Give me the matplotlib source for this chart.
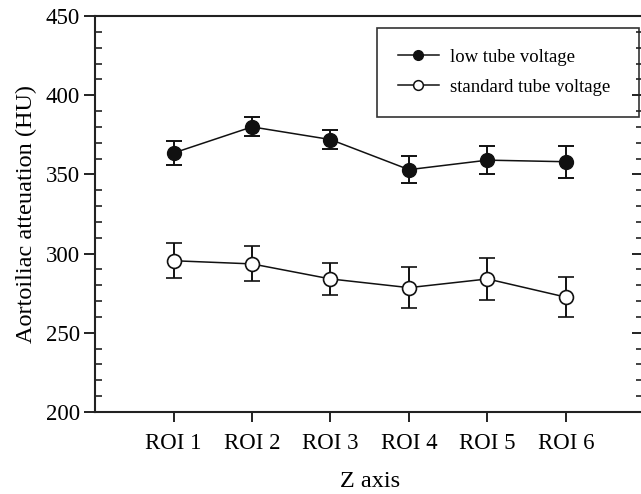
import numpy as np
import matplotlib
matplotlib.use('Agg')
import matplotlib.pyplot as plt
from matplotlib.ticker import MultipleLocator
from matplotlib.lines import Line2D

plt.rcParams['font.family'] = ['Liberation Serif', 'DejaVu Serif']

rois = ['ROI 1', 'ROI 2', 'ROI 3', 'ROI 4', 'ROI 5', 'ROI 6']
low_mean = [363.5, 380, 372, 353, 359, 358]
low_err = [7.5, 6, 6, 8.5, 9, 10]
std_mean = [295.5, 293.5, 284, 278.5, 284, 272.5]
std_err = [11, 11, 10, 13, 13.5, 12.5]

x = np.arange(1, len(rois) + 1)
ink = '#111111'

fig = plt.figure(figsize=(6.41, 4.94), dpi=100)
ax = fig.add_axes([95 / 641, 82 / 494, 549.5 / 641, 396 / 494])

ax.errorbar(x, low_mean, yerr=low_err, fmt='-o', color=ink, mfc=ink,
            mec=ink, ms=10, lw=1.1, elinewidth=1.4, capsize=6, capthick=1.4)
ax.errorbar(x, std_mean, yerr=std_err, fmt='-o', color=ink, mfc='white',
            mec=ink, mew=1.2, ms=10, lw=1.1, elinewidth=1.4, capsize=6, capthick=1.4)

ax.set_xlim(0, 7)
ax.set_ylim(200, 450)
ax.set_xticks(x)
ax.set_xticklabels(rois)
ax.yaxis.set_major_locator(MultipleLocator(50))
ax.yaxis.set_minor_locator(MultipleLocator(10))

for s in ax.spines.values():
    s.set_linewidth(1.5)
    s.set_color('#222222')

ax.tick_params(axis='x', which='major', direction='out', length=7, width=1.4,
               labelsize=16.5, top=False, pad=8, color='#222222')
ax.tick_params(axis='y', which='major', direction='out', length=8, width=1.4,
               labelsize=16.5, right=False, pad=3, color='#222222')
ax.tick_params(axis='y', which='minor', direction='in', length=5, width=1.2,
               right=False, color='#222222')

# right side ticks point inward
ax2 = ax.twinx()
ax2.set_ylim(200, 450)
ax2.yaxis.set_major_locator(MultipleLocator(50))
ax2.yaxis.set_minor_locator(MultipleLocator(10))
ax2.tick_params(axis='y', which='major', direction='in', length=9, width=1.4,
                labelright=False, color='#222222')
ax2.tick_params(axis='y', which='minor', direction='in', length=6, width=1.2,
                color='#222222')
for s in ax2.spines.values():
    s.set_visible(False)

ax.set_xlabel('Z axis', fontsize=17.5, labelpad=12)
ax.set_ylabel('Aortoiliac atteuation (HU)', fontsize=17.5, labelpad=6)

handles = [
    Line2D([], [], color=ink, lw=1.1, marker='o', ms=7, mfc=ink, mec=ink),
    Line2D([], [], color=ink, lw=1.1, marker='o', ms=7, mfc='white', mec=ink, mew=1.1),
]
labels = ['low tube voltage', 'standard tube voltage']
leg = ax.legend(handles, labels, loc='upper left',
                bbox_to_anchor=(0.513, 0.75, 0.477, 0.22), mode='expand',
                borderaxespad=0, fontsize=13.5, fancybox=False, framealpha=1,
                edgecolor='#333333', handlelength=2.2, handletextpad=0.6,
                borderpad=1.1, labelspacing=0.7)
leg.get_frame().set_linewidth(1.2)

fig.savefig('out.png', dpi=100)
